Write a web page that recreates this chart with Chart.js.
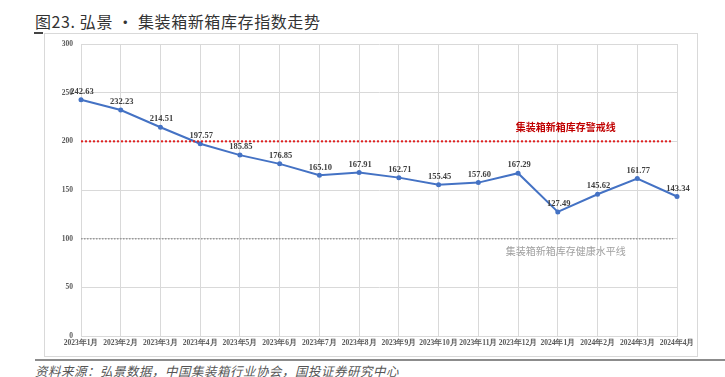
<!DOCTYPE html>
<html>
<head>
<meta charset="utf-8">
<script src="https://cdn.jsdelivr.net/npm/chart.js@4"></script>
<style>
    html, body { margin: 0; padding: 0; background: #fff; }
    body { width: 725px; height: 377px; position: relative; overflow: hidden; }
    #title {
        position: absolute; left: 35px; top: 9px;
        font-family: "Noto Sans CJK SC", sans-serif; font-size: 16px; font-weight: 400;
        color: #333; letter-spacing: 0.6px; white-space: nowrap;
    }
    #mark { position: absolute; left: 34px; top: 32px; width: 9px; height: 2px; background: #444; }
    #frame {
        position: absolute; left: 44px; top: 33px; width: 654px; height: 324px;
        border: 1px solid #d9d9d9; box-sizing: border-box;
    }
    #rule { position: absolute; left: 35px; top: 359px; width: 690px; height: 2px; background: #8c8c8c; }
    #source {
        position: absolute; left: 35px; top: 361px;
        font-family: "Noto Sans CJK SC", sans-serif; font-size: 12.5px; font-style: italic;
        color: #555; letter-spacing: 0.5px; white-space: nowrap;
    }
    #wrap { position: absolute; left: 0; top: 0; width: 725px; height: 377px; }
</style>
</head>
<body>
<div id="title">图23. 弘景 • 集装箱新箱库存指数走势</div>
<div id="mark"></div>
<div id="frame"></div>
<div id="rule"></div>
<div id="source">资料来源：弘景数据，中国集装箱行业协会，国投证券研究中心</div>
<div id="wrap"><canvas id="chart" width="725" height="377"></canvas></div>
<script>
// categories and values
const months = ['2023年1月', '2023年2月', '2023年3月', '2023年4月', '2023年5月', '2023年6月',
    '2023年7月', '2023年8月', '2023年9月', '2023年10月', '2023年11月', '2023年12月',
    '2024年1月', '2024年2月', '2024年3月', '2024年4月'];
const indexValues = [242.63, 232.23, 214.51, 197.57, 185.85, 176.85, 165.10, 167.91,
    162.71, 155.45, 157.60, 167.29, 127.49, 145.62, 161.77, 143.34];
const yTicks = [0, 50, 100, 150, 200, 250, 300];
const warnLevel = 200;
const healthLevel = 100;
const warnLabel = '集装箱新箱库存警戒线';
const healthLabel = '集装箱新箱库存健康水平线';

const serif = '"Liberation Serif", "Times New Roman", serif';

// draws the two reference lines, their captions and the point labels
const overlayPlugin = {
    id: 'overlay',
    afterDatasetsDraw(chart) {
        const ctx = chart.ctx;
        const area = chart.chartArea;
        const x = chart.scales.x;
        const y = chart.scales.y;

        ctx.save();
        // warning line
        ctx.strokeStyle = '#e02020';
        ctx.lineWidth = 2;
        ctx.setLineDash([2, 2]);
        ctx.beginPath();
        ctx.moveTo(area.left, y.getPixelForValue(warnLevel));
        ctx.lineTo(area.right - 4, y.getPixelForValue(warnLevel));
        ctx.stroke();

        // health line
        ctx.strokeStyle = '#9a9a9a';
        ctx.lineWidth = 1.5;
        ctx.setLineDash([1.5, 1.5]);
        ctx.beginPath();
        ctx.moveTo(area.left, y.getPixelForValue(healthLevel));
        ctx.lineTo(area.right - 4, y.getPixelForValue(healthLevel));
        ctx.stroke();
        ctx.setLineDash([]);

        // captions
        ctx.textAlign = 'center';
        ctx.textBaseline = 'middle';
        ctx.font = 'bold 10px "Noto Sans CJK SC", sans-serif';
        ctx.fillStyle = '#c00000';
        ctx.fillText(warnLabel, x.getPixelForValue(12) + 8, y.getPixelForValue(warnLevel) - 14);
        ctx.font = '10px "Noto Sans CJK SC", sans-serif';
        ctx.fillStyle = '#a0a0a0';
        ctx.fillText(healthLabel, x.getPixelForValue(12) + 8, y.getPixelForValue(healthLevel) + 13);

        // value labels
        ctx.font = 'bold 8.5px ' + serif;
        ctx.fillStyle = '#404040';
        const meta = chart.getDatasetMeta(0);
        meta.data.forEach((pt, i) => {
            ctx.fillText(indexValues[i].toFixed(2), pt.x + 1, pt.y - 8);
        });
        ctx.restore();
    }
};

new Chart(document.getElementById('chart'), {
    type: 'line',
    data: {
        labels: months,
        datasets: [{
            data: indexValues,
            borderColor: '#4472c4',
            backgroundColor: '#4472c4',
            borderWidth: 2,
            pointRadius: 2.5,
            pointBorderWidth: 0,
            tension: 0
        }]
    },
    options: {
        responsive: false,
        animation: false,
        layout: { padding: { left: 0, top: 44, right: 48, bottom: 21 } },
        plugins: { legend: { display: false }, tooltip: { enabled: false } },
        scales: {
            x: {
                offset: false,
                grid: { color: '#d9d9d9', drawTicks: false },
                border: { color: '#d9d9d9' },
                ticks: {
                    autoSkip: false, maxRotation: 0, padding: 3,
                    color: '#595959',
                    font: { family: serif, size: 7.5, weight: 'bold' }
                },
                afterFit(scale) { scale.height = 20; }
            },
            y: {
                min: 0, max: 300,
                grid: { color: '#d9d9d9', drawTicks: false },
                border: { color: '#d9d9d9' },
                afterBuildTicks(scale) { scale.ticks = yTicks.map(v => ({ value: v })); },
                ticks: {
                    padding: 8,
                    color: '#595959',
                    font: { family: serif, size: 7.5, weight: 'bold' }
                },
                afterFit(scale) { scale.width = 81; }
            }
        }
    },
    plugins: [overlayPlugin]
});
</script>
</body>
</html>
